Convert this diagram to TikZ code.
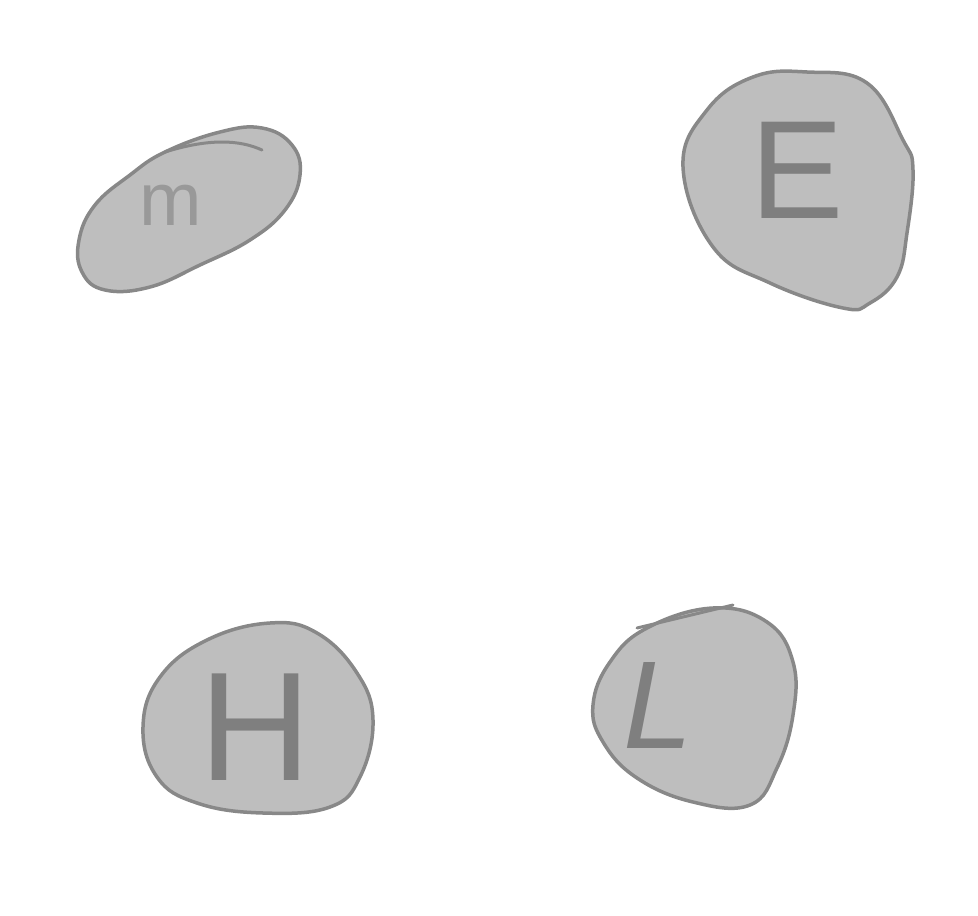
\documentclass[tikz,border=0pt]{standalone}
\usepackage{fontspec}
\setmainfont{Liberation Sans}
\definecolor{blobfill}{HTML}{BEBEBE}
\definecolor{blobline}{HTML}{888888}
\definecolor{letterdark}{HTML}{7F7F7F}
\definecolor{letterlight}{HTML}{999999}
\begin{document}
\begin{tikzpicture}[x=1pt,y=-1pt,
		Blob/.style={fill=blobfill,draw=blobline,line width=3.5pt,line join=round},
		Stray/.style={draw=blobline,line width=3pt,line cap=round},
		Letter/.style={inner sep=0pt,text=letterdark,font=\fontsize{#1}{#1}\selectfont},
		Letter/.default=140]
		\useasboundingbox (0,0) rectangle (978,916);
		% blobs
		\filldraw[Blob] plot[smooth cycle,tension=0.7] coordinates
			{(79,240) (95,205) (130,175) (165,152) (220,132) (262,128) (292,145) (300,175) (285,210) (250,240) (200,265) (150,287) (105,290) (82,272)};
		\draw[Stray] (165,152) .. controls (210,138) and (240,140) .. (262,150);
		\filldraw[Blob] plot[smooth cycle,tension=0.7] coordinates
			{(683,167) (707,110) (753,77) (807,72) (867,83) (903,140) (913,170) (907,233) (897,277) (870,303) (843,308) (770,283) (713,247)};
		\filldraw[Blob] plot[smooth cycle,tension=0.7] coordinates
			{(143,727) (160,677) (207,640) (270,623) (317,633) (357,673) (373,720) (360,777) (330,807) (263,813) (197,803) (157,777)};
		\filldraw[Blob] plot[smooth cycle,tension=0.7] coordinates
			{(593,705) (610,662) (647,628) (713,608) (767,622) (793,662) (793,715) (777,768) (750,805) (693,802) (637,778) (603,742)};
		\draw[Stray] (637,628) -- (733,605);
		% letters
		\node[Letter=75,text=letterlight] (m) at (171,205) {m};
		\node[Letter=140] (E) at (797,170) {E};
		\node[Letter=155] (H) at (255,727) {H};
		\node[Letter=125] (L) at (658,705) {\itshape L};
	\end{tikzpicture}
\end{document}
